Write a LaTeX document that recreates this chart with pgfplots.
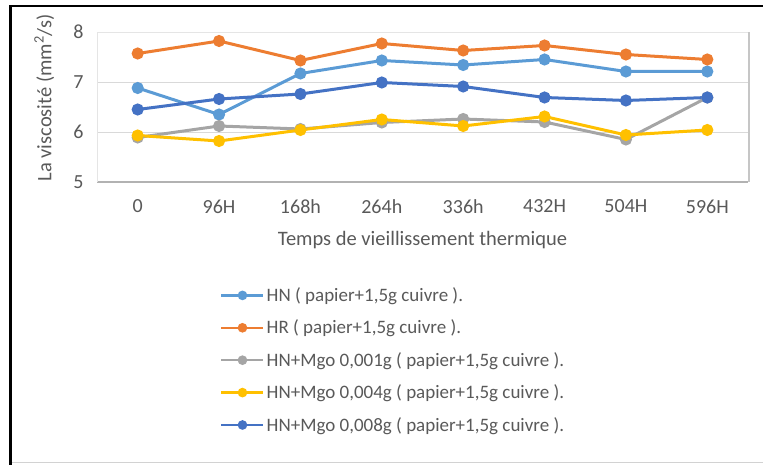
\documentclass[border=0pt]{standalone}
\usepackage{pgfplots}
\pgfplotsset{compat=1.18}
\usepackage{fontspec}
\setmainfont{Carlito}
\definecolor{cHN}{HTML}{5B9BD5}
\definecolor{cHR}{HTML}{ED7D31}
\definecolor{cG}{HTML}{A5A5A5}
\definecolor{cY}{HTML}{FFC000}
\definecolor{cDB}{HTML}{4472C4}
\definecolor{txt}{HTML}{595959}
\begin{document}
\begin{tikzpicture}
\path[use as bounding box] (0pt,0pt) rectangle (763pt,465pt);
\draw[gray!35, line width=1.5pt] (10pt,2.5pt) -- (763pt,2.5pt);
\draw[black, line width=2.5pt] (10.5pt,0pt) -- (10.5pt,459pt) -- (763pt,459pt);
\begin{axis}[name=ax, at={(97pt,283pt)}, anchor=south west, scale only axis,
  width=651pt, height=150pt,
  xmin=-0.5, xmax=7.5, ymin=5, ymax=8,
  ytick={5,6,7,8}, xtick={0,...,7},
  xticklabels={0,96H,168h,264h,336h,432H,504H,596H},
  /pgf/number format/assume math mode=true,
  ymajorgrids, grid style={gray!30, line width=0.8pt},
  axis line style={draw=none}, tick style={draw=none},
  ticklabel style={font=\fontsize{20}{23}\selectfont, text=txt},
  xticklabel style={yshift=-14pt},
  yticklabel style={xshift=-10pt},
  xlabel={Temps de vieillissement thermique},
  ylabel={La viscosité (mm\textsuperscript{2}/s)},
  label style={font=\fontsize{20.5}{24}\selectfont, text=txt},
  xlabel style={at={(axis description cs:0.5,-0.387)}, anchor=center},
  ylabel style={at={(axis description cs:-0.081,0.56)}, anchor=center, rotate=0},
  every axis plot/.append style={line width=3pt, mark=*, mark size=4.5pt},
  legend style={at={(axis description cs:0.189,-0.69)}, anchor=north west,
    draw=none, fill=none, font=\fontsize{19}{22}\selectfont, text=txt,
    row sep=13pt, inner sep=0pt},
  legend cell align=left,
  legend image code/.code={\draw[#1, line width=2.5pt, mark size=3.5pt, mark repeat=2, mark phase=2] plot coordinates {(0pt,0pt) (21pt,0pt) (42pt,0pt)};},
]
\addplot[color=cHN] coordinates {(0,6.88) (1,6.35) (2,7.17) (3,7.43) (4,7.34) (5,7.45) (6,7.21) (7,7.21)};
\addlegendentry{HN ( papier+1,5g cuivre ).}
\addplot[color=cHR] coordinates {(0,7.57) (1,7.82) (2,7.43) (3,7.77) (4,7.63) (5,7.73) (6,7.55) (7,7.45)};
\addlegendentry{HR ( papier+1,5g cuivre ).}
\addplot[color=cG] coordinates {(0,5.89) (1,6.12) (2,6.06) (3,6.19) (4,6.26) (5,6.20) (6,5.85) (7,6.69)};
\addlegendentry{HN+Mgo 0,001g ( papier+1,5g cuivre ).}
\addplot[color=cY] coordinates {(0,5.93) (1,5.82) (2,6.04) (3,6.25) (4,6.12) (5,6.31) (6,5.94) (7,6.04)};
\addlegendentry{HN+Mgo 0,004g ( papier+1,5g cuivre ).}
\addplot[color=cDB] coordinates {(0,6.45) (1,6.66) (2,6.76) (3,6.99) (4,6.91) (5,6.69) (6,6.63) (7,6.69)};
\addlegendentry{HN+Mgo 0,008g ( papier+1,5g cuivre ).}
\end{axis}
\draw[gray!60, line width=2.5pt] (ax.south west) -- (ax.south east);
\draw[gray!45, line width=2pt] ([xshift=1pt]ax.south east) -- ([xshift=1pt]ax.north east);
\draw[gray!20, line width=0.6pt] (ax.south west) -- (ax.north west) -- (ax.north east);
\end{tikzpicture}
\end{document}
